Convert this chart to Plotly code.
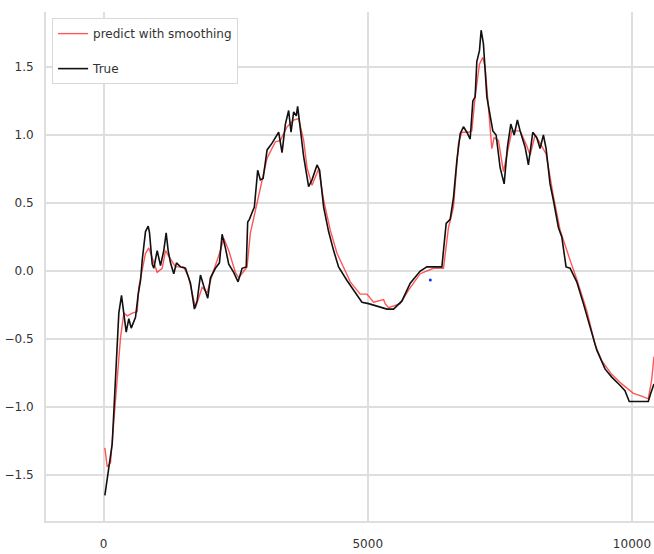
import plotly.graph_objects as go

# True series (black)
true_x = [25, 100, 164, 289, 340, 429, 478, 524, 605, 656, 700, 732, 794, 845, 870, 921, 951, 1015,
          1078, 1140, 1185, 1223, 1267, 1329, 1380, 1456, 1550, 1645, 1720, 1771, 1834, 1896, 1972,
          2023, 2117, 2193, 2244, 2306, 2369, 2463, 2546, 2622, 2700, 2728, 2760, 2811, 2854, 2917,
          2968, 3019, 3095, 3189, 3252, 3314, 3378, 3441, 3503, 3548, 3598, 3648, 3673, 3724, 3787,
          3881, 3945, 4040, 4089, 4165, 4259, 4354, 4448, 4607, 4764, 4890, 5015, 5174, 5363, 5488,
          5647, 5804, 5993, 6119, 6403, 6484, 6560, 6622, 6686, 6749, 6811, 6876, 6938, 6989, 7032,
          7064, 7114, 7146, 7189, 7254, 7316, 7367, 7429, 7505, 7581, 7643, 7707, 7770, 7832, 7883,
          7978, 8040, 8123, 8199, 8261, 8324, 8375, 8450, 8513, 8608, 8672, 8753, 8829, 8955, 9081,
          9206, 9333, 9490, 9617, 9773, 9868, 9949, 10308, 10354, 10416]
true_y = [-1.65, -1.44, -1.27, -0.31, -0.18, -0.45, -0.35, -0.42, -0.34, -0.17, -0.07, 0.08, 0.29,
          0.33, 0.28, 0.05, 0.02, 0.15, 0.04, 0.15, 0.28, 0.15, 0.06, -0.02, 0.06, 0.03, 0.02, -0.09,
          -0.28, -0.22, -0.03, -0.11, -0.20, -0.05, 0.02, 0.06, 0.27, 0.17, 0.05, -0.01, -0.08, 0.02,
          0.03, 0.36, 0.38, 0.43, 0.47, 0.74, 0.67, 0.68, 0.89, 0.94, 0.98, 1.02, 0.87, 1.08, 1.18,
          1.02, 1.17, 1.14, 1.21, 1.03, 0.84, 0.62, 0.67, 0.78, 0.74, 0.47, 0.29, 0.15, 0.03, -0.07,
          -0.16, -0.23, -0.24, -0.26, -0.28, -0.28, -0.22, -0.09, 0.00, 0.03, 0.03, 0.35, 0.38, 0.54,
          0.81, 1.01, 1.06, 1.02, 0.97, 1.25, 1.28, 1.54, 1.62, 1.77, 1.67, 1.28, 1.13, 1.03, 1.00,
          0.76, 0.64, 0.91, 1.08, 1.00, 1.11, 1.03, 0.91, 0.78, 1.02, 0.98, 0.90, 1.00, 0.90, 0.64,
          0.52, 0.32, 0.25, 0.03, 0.02, -0.08, -0.24, -0.41, -0.58, -0.72, -0.78, -0.84, -0.88, -0.96,
          -0.96, -0.90, -0.83]

# Prediction with smoothing (red)
pred_x = [25, 70, 132, 321, 384, 448, 543, 637, 667, 732, 794, 856, 921, 1015, 1110, 1172, 1248,
          1361, 1518, 1613, 1739, 1866, 1960, 2055, 2212, 2274, 2369, 2495, 2558, 2652, 2716, 2779,
          2873, 2968, 3095, 3252, 3346, 3473, 3598, 3692, 3787, 3851, 3945, 4070, 4165, 4291, 4418,
          4575, 4669, 4858, 4985, 5110, 5299, 5330, 5393, 5615, 5771, 5993, 6244, 6433, 6528, 6622,
          6717, 6781, 6906, 6970, 7032, 7114, 7178, 7221, 7284, 7348, 7391, 7473, 7568, 7632, 7726,
          7883, 8009, 8072, 8166, 8261, 8375, 8513, 8607, 8640, 8829, 8955, 9144, 9301, 9427, 9617,
          9806, 9932, 10026, 10184, 10308, 10373, 10416]
pred_y = [-1.30, -1.44, -1.41, -0.49, -0.31, -0.33, -0.31, -0.30, -0.12, 0.00, 0.13, 0.17, 0.10,
          -0.01, 0.02, 0.15, 0.10, 0.03, 0.03, -0.05, -0.27, -0.12, -0.16, -0.03, 0.15, 0.24, 0.15,
          -0.01, -0.05, 0.00, 0.03, 0.28, 0.44, 0.62, 0.83, 0.95, 0.96, 1.06, 1.11, 1.12, 0.96, 0.76,
          0.63, 0.75, 0.52, 0.30, 0.13, 0.00, -0.08, -0.17, -0.17, -0.23, -0.21, -0.24, -0.27, -0.24,
          -0.14, -0.02, 0.02, 0.02, 0.32, 0.47, 0.94, 1.02, 1.02, 1.03, 1.28, 1.52, 1.57, 1.50, 1.23,
          0.90, 0.98, 0.96, 0.73, 0.86, 1.03, 1.03, 0.92, 0.85, 1.00, 0.94, 0.86, 0.55, 0.37, 0.30,
          0.08, -0.06, -0.29, -0.54, -0.66, -0.76, -0.83, -0.87, -0.90, -0.92, -0.94, -0.80, -0.63]

stray_x = [6184]
stray_y = [-0.066]

x_ticks = [0, 5000, 10000]
y_ticks = [-1.5, -1.0, -0.5, 0.0, 0.5, 1.0, 1.5]

FONT = "DejaVu Sans"
GRID = "#dedede"

fig = go.Figure()
fig.add_trace(go.Scatter(x=pred_x, y=pred_y, mode="lines", name="predict with smoothing",
                         legendgroup="a",
                         line=dict(color="rgba(255,30,30,0.75)", width=1.4)))
fig.add_trace(go.Scatter(x=true_x, y=true_y, mode="lines", name="True", legendgroup="b",
                         line=dict(color="#111111", width=1.6)))
fig.add_trace(go.Scatter(x=stray_x, y=stray_y, mode="markers", showlegend=False,
                         marker=dict(color="#1030e0", size=3)))

fig.update_layout(
    width=654, height=554,
    margin=dict(l=46, r=0, t=12, b=33),
    paper_bgcolor="white", plot_bgcolor="white",
    font=dict(family=FONT, size=12, color="#333333"),
    showlegend=True,
    legend=dict(x=0.01, y=0.988, xanchor="left", yanchor="top",
                bgcolor="white", bordercolor="#d8d8d8", borderwidth=1,
                font=dict(family=FONT, size=12, color="#333333"),
                traceorder="grouped", tracegroupgap=16),
)
fig.update_xaxes(range=[-1089, 10417], tickvals=x_ticks, ticktext=[str(v) for v in x_ticks],
                 showgrid=True, gridcolor=GRID, gridwidth=1.5, zeroline=False,
                 showline=True, linecolor=GRID, linewidth=2, ticks="", automargin=False,
                 ticklabelstandoff=11, tickfont=dict(size=12))
fig.update_yaxes(range=[-1.838, 1.904], tickvals=y_ticks, ticktext=[f"{v:.1f}".replace("-", "−") for v in y_ticks],
                 showgrid=True, gridcolor=GRID, gridwidth=1.5, zeroline=False,
                 showline=True, linecolor=GRID, linewidth=2, ticks="", automargin=False,
                 ticklabelstandoff=8, tickfont=dict(size=12))

fig.write_html("out.html", config={"displayModeBar": False},
               post_script="document.body.style.margin='0';document.body.style.overflow='hidden';")
